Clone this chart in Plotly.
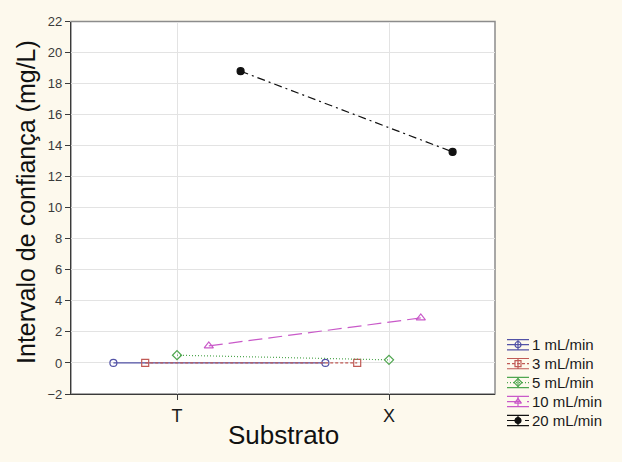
import plotly.graph_objects as go

# Confidence interval per substrate and flow rate
categories = ["T", "X"]
series_names = ["1 mL/min", "3 mL/min", "5 mL/min", "10 mL/min", "20 mL/min"]
ic_1 = [0.0, 0.0]
ic_3 = [0.0, 0.0]
ic_5 = [0.5, 0.2]
ic_10 = [1.1, 2.9]
ic_20 = [18.8, 13.6]
y_ticks = list(range(-2, 23, 2))

values = [ic_1, ic_3, ic_5, ic_10, ic_20]

colors = ["#5252a6", "#c05a55", "#4fa64f", "#c95ac9", "#111111"]
dashes = ["solid", "3px,2px", "1px,2px", "14px,6px", "8px,4px,2px,4px"]
symbols = ["circle-open", "square-open", "diamond-open", "triangle-up-open", "circle"]
msizes = [7, 7, 7, 8, 7]

W, H = 622, 462
# plot area in pixels
PL, PR, PT, PB = 71, 495, 15, 400
step = 0.15  # dodge between flow-rate series

fig = go.Figure()
n = len(series_names)
for i, (name, vals) in enumerate(zip(series_names, values)):
    xs = [k + (i - (n - 1) / 2) * step for k in range(len(categories))]
    fig.add_trace(go.Scatter(
        x=xs, y=vals, mode="lines+markers", name=name, showlegend=False,
        line=dict(color=colors[i], width=1.2, dash=dashes[i]),
        marker=dict(symbol=symbols[i], size=msizes[i], color=colors[i],
                    line=dict(color=colors[i], width=1.2)),
        xaxis="x", yaxis="y",
    ))

# Legend drawn on its own hidden axes (x in px, y in rows)
LX0, LX1 = 507, 529
LXC = (LX0 + LX1) / 2
ROW = 19.6          # px per legend row
LTOP = 339          # px, top of legend box
LPAD = 10           # px between box edge and first/last row centre
rows_span = (n - 1) * ROW + 2 * LPAD
pad_rows = LPAD / ROW
for i, name in enumerate(series_names):
    fig.add_trace(go.Scatter(
        x=[LX0, LX1], y=[i, i], mode="lines", showlegend=False,
        line=dict(color=colors[i], width=1.2, dash=dashes[i] if i else "solid"),
        xaxis="x3", yaxis="y3", hoverinfo="skip",
    ))
    fig.add_trace(go.Scatter(
        x=[LXC], y=[i], mode="markers", showlegend=False,
        marker=dict(symbol=symbols[i], size=6, color=colors[i],
                    line=dict(color=colors[i], width=1.2)),
        error_y=dict(type="constant", value=5.3 / ROW, color=colors[i],
                     thickness=1.2, width=11),
        xaxis="x3", yaxis="y3", hoverinfo="skip",
    ))
    fig.add_annotation(
        x=LX1 + 2, y=i, xref="x3", yref="y3", text=name, showarrow=False,
        xanchor="left", yanchor="middle", borderpad=0,
        font=dict(family="Liberation Sans, Arial, sans-serif", size=15, color="#1a1a1a"),
    )

fig.add_shape(type="rect", xref="x domain", yref="y domain", x0=0, x1=1, y0=0, y1=1,
              fillcolor="white", line=dict(color="#8c8c8c", width=1.5), layer="below")

font_tick = dict(family="Liberation Sans, Arial, sans-serif", size=13, color="#3a3a3a")

fig.update_layout(
    width=W, height=H, autosize=False,
    margin=dict(l=0, r=0, t=0, b=0),
    paper_bgcolor="#fdf9ed", plot_bgcolor="rgba(0,0,0,0)",
    showlegend=False,
    xaxis=dict(
        domain=[PL / W, PR / W], range=[-0.5, 1.5],
        tickvals=list(range(len(categories))), ticktext=categories,
        tickfont=dict(family="Liberation Sans, Arial, sans-serif", size=18, color="#1a1a1a"),
        showgrid=True, gridcolor="#e3e3e3", gridwidth=1, zeroline=False,
        showline=True, linecolor="#3a3a3a", linewidth=1.2,
        ticks="outside", ticklen=5, tickcolor="#3a3a3a",
    ),
    yaxis=dict(
        domain=[(H - PB) / H, (H - PT) / H], range=[-2, 22],
        tickvals=y_ticks, tickfont=font_tick,
        showgrid=True, gridcolor="#e3e3e3", gridwidth=1, zeroline=False,
        showline=True, linecolor="#3a3a3a", linewidth=1.2,
        ticks="outside", ticklen=5, tickcolor="#3a3a3a",
    ),
    xaxis3=dict(domain=[505 / W, 1.0], range=[505, 622], visible=False, anchor="y3"),
    yaxis3=dict(domain=[(H - LTOP - rows_span) / H, (H - LTOP) / H],
                range=[n - 1 + pad_rows, -pad_rows], visible=False, anchor="x3"),
)

fig.add_annotation(
    x=26 / W, y=(H - (PT + PB) / 2 + 6) / H, xref="paper", yref="paper",
    xanchor="center", yanchor="middle",
    text="Intervalo de confiança (mg/L)", textangle=-90, showarrow=False,
    font=dict(family="Liberation Sans, Arial, sans-serif", size=25, color="#111111"),
)
fig.add_annotation(
    x=((PL + PR) / 2) / W, y=(H - 442) / H, xref="paper", yref="paper",
    xanchor="center", yanchor="middle",
    text="Substrato", showarrow=False,
    font=dict(family="Liberation Sans, Arial, sans-serif", size=26, color="#111111"),
)

fig.write_html("out.html")
